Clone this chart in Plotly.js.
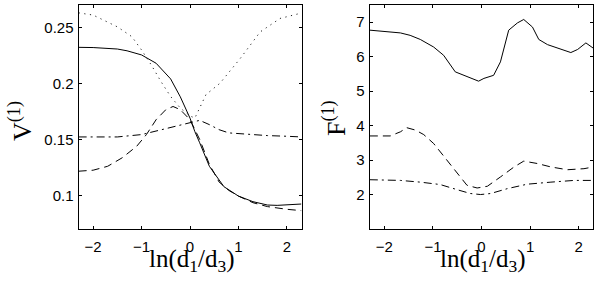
<!DOCTYPE html>
<html>
<head>
<meta charset="utf-8">
<script src="https://cdn.plot.ly/plotly-3.0.1.min.js"></script>
<style>html,body{margin:0;padding:0;background:#fff;}#chart{width:599px;height:286px;}</style>
</head>
<body>
<div id="chart"></div>
<script>
// ---- Left panel: V^(1) ----
const vSolidX = [-2.30, -2.0, -1.5, -1.3, -1.0, -0.7, -0.4, -0.2, 0.0, 0.1, 0.2, 0.4, 0.7, 1.0, 1.3, 1.6, 1.8, 2.30];
const vSolidY = [0.2322, 0.232, 0.2307, 0.2291, 0.2254, 0.218, 0.204, 0.188, 0.169, 0.157, 0.147, 0.126, 0.1078, 0.0994, 0.0944, 0.0914, 0.0911, 0.0923];

const vDashX = [-2.30, -2.0, -1.7, -1.4, -1.1, -0.9, -0.7, -0.5, -0.35, -0.2, 0.0, 0.2, 0.4, 0.6, 0.8, 1.0, 1.3, 1.6, 2.0, 2.30];
const vDashY = [0.1216, 0.1225, 0.126, 0.1336, 0.1439, 0.1543, 0.1676, 0.1765, 0.1794, 0.1765, 0.1676, 0.150, 0.1277, 0.112, 0.1045, 0.0994, 0.0935, 0.090, 0.0876, 0.0864];

const vDashDotX = [-2.30, -1.5, -1.0, -0.5, -0.2, 0.0, 0.2, 0.4, 0.6, 0.8, 1.2, 1.6, 2.0, 2.30];
const vDashDotY = [0.1522, 0.1522, 0.1543, 0.1596, 0.1632, 0.1652, 0.167, 0.1632, 0.1587, 0.1558, 0.1543, 0.1534, 0.1528, 0.1522];

const vDotX = [-2.30, -2.0, -1.5, -1.2, -1.0, -0.8, -0.6, -0.4, -0.2, 0.0, 0.1, 0.33, 0.62, 1.04, 1.45, 1.86, 2.30];
const vDotY = [0.263, 0.261, 0.2505, 0.2417, 0.2298, 0.2165, 0.2017, 0.1883, 0.178, 0.171, 0.169, 0.19, 0.2002, 0.2224, 0.246, 0.258, 0.2628];

// ---- Right panel: F^(1) ----
const fSolidX = [-2.30, -2.0, -1.67, -1.47, -1.26, -0.985, -0.78, -0.54, -0.37, -0.06, 0.05, 0.25, 0.39, 0.56, 0.74, 0.87, 1.05, 1.18, 1.36, 1.6, 1.84, 1.98, 2.15, 2.30];
const fSolidY = [6.77, 6.74, 6.69, 6.62, 6.50, 6.28, 6.04, 5.56, 5.46, 5.29, 5.37, 5.46, 5.85, 6.77, 6.98, 7.08, 6.86, 6.50, 6.35, 6.24, 6.12, 6.21, 6.40, 6.25];

const fDashX = [-2.30, -1.88, -1.67, -1.54, -1.36, -1.19, -0.985, -0.71, -0.5, -0.30, -0.09, 0.12, 0.39, 0.67, 0.87, 1.15, 1.43, 1.77, 2.11, 2.30];
const fDashY = [3.70, 3.70, 3.82, 3.94, 3.87, 3.74, 3.48, 2.99, 2.61, 2.27, 2.19, 2.24, 2.51, 2.80, 2.97, 2.90, 2.80, 2.72, 2.75, 2.80];

const fDashDotX = [-2.30, -1.67, -1.26, -0.85, -0.5, -0.23, -0.02, 0.19, 0.53, 0.94, 1.43, 1.91, 2.30];
const fDashDotY = [2.43, 2.41, 2.36, 2.29, 2.14, 2.03, 2.00, 2.03, 2.17, 2.30, 2.36, 2.41, 2.41];

const xTickVals = [-2, -1, 0, 1, 2];
const vTickVals = [0.1, 0.15, 0.2, 0.25];
const vTickText = ['0.1', '0.15', '0.2', '0.25'];
const fTickVals = [2, 3, 4, 5, 6, 7];

const W = 599, H = 286;
const LN = Math.log(10);

const solid = {color: '#000', width: 1, dash: 'solid'};
const dashed = {color: '#000', width: 1, dash: '8px,5px'};
const dashdot = {color: '#000', width: 1, dash: '8px,4px,2px,4px'};
const dotted = {color: '#222', width: 1, dash: '1.2px,4.5px'};

function tr(x, y, line, xa, ya) {
  return {x: x, y: y, type: 'scatter', mode: 'lines', line: line, xaxis: xa, yaxis: ya, hoverinfo: 'skip', showlegend: false};
}

const data = [
  tr(vSolidX, vSolidY, solid, 'x', 'y'),
  tr(vDashX, vDashY, dashed, 'x', 'y'),
  tr(vDashDotX, vDashDotY, dashdot, 'x', 'y'),
  tr(vDotX, vDotY, dotted, 'x', 'y'),
  tr(fSolidX, fSolidY, solid, 'x2', 'y2'),
  tr(fDashX, fDashY, dashed, 'x2', 'y2'),
  tr(fDashDotX, fDashDotY, dashdot, 'x2', 'y2')
];

const tickFont = {family: 'Liberation Sans, Arial, sans-serif', size: 15, color: '#000'};
const axCommon = {
  showgrid: false, zeroline: false, showline: true, linecolor: '#000', linewidth: 1,
  mirror: 'allticks', ticks: 'inside', ticklen: 3, tickcolor: '#000', tickwidth: 1,
  tickfont: tickFont, fixedrange: true
};

const yTop = 1 - 5 / H, yBot = 1 - 229 / H;

const layout = {
  width: W, height: H,
  margin: {l: 0, r: 0, t: 0, b: 0},
  paper_bgcolor: '#fff', plot_bgcolor: '#fff',
  showlegend: false,
  xaxis: Object.assign({}, axCommon, {domain: [78.5 / W, 301.5 / W], range: [-LN, LN], tickvals: xTickVals, anchor: 'y', ticklabelstandoff: 4}),
  yaxis: Object.assign({}, axCommon, {domain: [yBot, yTop], range: [0.07, 0.27], tickvals: vTickVals, ticktext: vTickText, anchor: 'x', ticklabelstandoff: 1}),
  xaxis2: Object.assign({}, axCommon, {domain: [369.7 / W, 593.3 / W], range: [-LN, LN], tickvals: xTickVals, anchor: 'y2', ticklabelstandoff: 4}),
  yaxis2: Object.assign({}, axCommon, {domain: [yBot, yTop], range: [1, 7.5], tickvals: fTickVals, anchor: 'x2', ticklabelstandoff: 1}),
  annotations: [
    {text: 'ln(d<sub>1</sub>/d<sub>3</sub>)', xref: 'paper', yref: 'paper', x: 192 / W, y: 1 - 260 / H,
     xanchor: 'center', yanchor: 'middle', showarrow: false, font: {family: 'Liberation Serif, Times New Roman, serif', size: 25, color: '#000'}},
    {text: 'ln(d<sub>1</sub>/d<sub>3</sub>)', xref: 'paper', yref: 'paper', x: 483 / W, y: 1 - 260 / H,
     xanchor: 'center', yanchor: 'middle', showarrow: false, font: {family: 'Liberation Serif, Times New Roman, serif', size: 25, color: '#000'}},
    {text: 'V<sup>(1)</sup>', xref: 'paper', yref: 'paper', x: 20 / W, y: 1 - 121 / H, textangle: -90,
     xanchor: 'center', yanchor: 'middle', showarrow: false, font: {family: 'Liberation Serif, Times New Roman, serif', size: 26, color: '#000'}},
    {text: 'F<sup>(1)</sup>', xref: 'paper', yref: 'paper', x: 334 / W, y: 1 - 118 / H, textangle: -90,
     xanchor: 'center', yanchor: 'middle', showarrow: false, font: {family: 'Liberation Serif, Times New Roman, serif', size: 26, color: '#000'}}
  ]
};

Plotly.newPlot('chart', data, layout, {staticPlot: true, displayModeBar: false});
</script>
</body>
</html>
